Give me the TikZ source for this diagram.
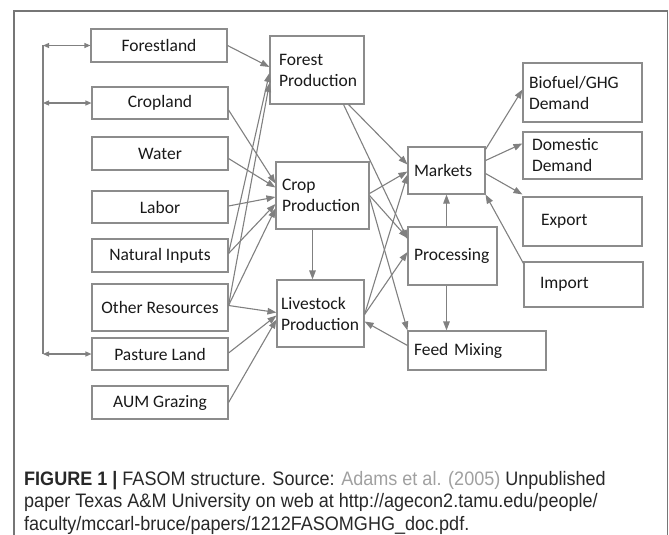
\documentclass[tikz,border=0pt]{standalone}
\usepackage{fontspec}
\setmainfont{Carlito}
\newfontfamily\capfont[FakeStretch=0.925]{Liberation Sans}
\usetikzlibrary{arrows.meta}
\definecolor{boxc}{RGB}{140,140,140}
\definecolor{arrc}{RGB}{128,128,128}
\definecolor{framec}{RGB}{118,118,118}
\definecolor{txtc}{RGB}{25,25,25}
\definecolor{capc}{RGB}{40,40,40}
\definecolor{linkc}{RGB}{160,160,160}
\tikzset{
  box/.style={draw=boxc, line width=1.1pt, text=txtc, font=\fontsize{17.5}{21}\selectfont,
    inner sep=0pt, minimum width=136pt, minimum height=#1, align=center},
  lbox/.style n args={3}{draw=boxc, line width=1.1pt, text=txtc, font=\fontsize{17.5}{21}\selectfont,
    inner ysep=0pt, inner xsep=#1, text width=#2, minimum height=#3, align=left},
  arr/.style={draw=arrc, line width=1.1pt, -{Triangle[length=9pt,width=6.5pt]}},
  darr/.style={draw=arrc, line width=1.1pt, {Triangle[length=6pt,width=5pt]}-{Triangle[length=6pt,width=5pt]}},
  vline/.style={draw=arrc, line width=1.1pt},
  frame/.style={draw=framec, line width=1.4pt},
  capline/.style={anchor=base west, inner sep=0pt, text=capc, font=\capfont\fontsize{19.5}{23}\selectfont}
}
\begin{document}
\begin{tikzpicture}[x=1pt,y=-1pt]
\useasboundingbox (0,0) rectangle (669,535);
\draw[frame] (14,540) -- (14,11) -- (667.5,11) -- (667.5,540);

% left column
\node[box=33pt] (fl) at (159,45.5) {Forestland};
\node[box=32pt] (cl) at (160,103) {Cropland};
\node[box=33pt] (wa) at (160,153.5) {Water};
\node[box=32pt] (lb) at (160,207) {Labor};
\node[box=33pt] (ni) at (160,255.5) {Natural Inputs};
\node[box=47pt] (or) at (160,307.5) {Other Resources};
\node[box=32pt] (pl) at (160,354) {Pasture Land};
\node[box=33pt] (ag) at (160,402.5) {AUM Grazing};

% production
\node[lbox={9pt}{76pt}{68pt}] (fp) at (317,70) {Forest\\Production};
\node[lbox={6pt}{81pt}{67pt}] (cp) at (322.5,195.5) {Crop\\Production};
\node[lbox={4pt}{79pt}{67pt}] (lv) at (320.5,313.5) {Livestock\\Production};

% middle
\node[lbox={6pt}{65pt}{47pt}] (mk) at (446.5,170.5) {Markets};
\node[lbox={6pt}{77pt}{58pt}] (pr) at (452.5,256) {Processing};
\node[lbox={6pt}{126pt}{39pt}] (fm) at (477,350.5) {Feed Mixing};

% right
\node[lbox={6pt}{107pt}{59pt}] (bf) at (582.5,92.5) {Biofuel/GHG\\Demand};
\node[lbox={9pt}{101pt}{47pt}] (dd) at (582.5,155.5) {Domestic\\Demand};
\node[lbox={18pt}{83pt}{49pt}] (ex) at (582.5,221.5) {Export};
\node[lbox={16pt}{87pt}{45pt}] (im) at (583.5,284.5) {Import};

% left vertical link
\coordinate (v1) at (43,45.5);
\coordinate (v2) at (43,103);
\coordinate (v3) at (43,354);
\draw[vline] (v1) -- (v3);
\draw[darr] (v1) -- (fl.west);
\draw[darr] (v2) -- (cl.west);
\draw[darr] (v3) -- (pl.west);

% inputs to production
\draw[arr] (fl.east) -- ([yshift=3pt]fp.west);
\draw[arr] ([yshift=2pt]ni.east) -- ([yshift=-3pt]fp.west);
\draw[arr] ([yshift=2pt]or.east) -- ([yshift=-13pt]fp.west);
\draw[arr] ([yshift=-7pt]cl.east) -- ([yshift=12pt]cp.west);
\draw[arr] ([yshift=-5pt]wa.east) -- ([yshift=8pt]cp.west);
\draw[arr] ([yshift=1pt]lb.east) -- ([yshift=-1.5pt]cp.west);
\draw[arr] ([yshift=2pt]ni.east) -- ([yshift=-8.5pt]cp.west);
\draw[arr] ([yshift=2pt]or.east) -- ([yshift=-13pt]cp.west);
\draw[arr] ([yshift=2pt]or.east) -- ([yshift=1pt]lv.west);
\draw[arr] ([yshift=1pt]pl.east) -- ([yshift=-2pt]lv.west);
\draw[arr] (ag.east) -- ([yshift=-6pt]lv.west);

% production to markets etc.
\draw[arr] ([xshift=-16pt]fp.south east) -- ([yshift=6pt]mk.west);
\draw[arr] ([xshift=-21pt]fp.south east) -- ([yshift=17pt]pr.west);
\draw[arr] ([yshift=2pt]cp.east) -- ([yshift=-1pt]mk.west);
\draw[arr] ([yshift=0pt]cp.east) -- ([yshift=18pt]pr.west);
\draw[arr] ([yshift=-2pt]cp.east) -- (fm.north west);
\draw[arr] ([xshift=-8pt]lv.north |- cp.south) -- ([xshift=-8pt]lv.north);
\draw[arr] ([yshift=-1pt]lv.east) -- ([yshift=-4pt]mk.west);
\draw[arr] ([yshift=-1pt]lv.east) -- ([yshift=4pt]pr.west);
\draw[arr] ([yshift=5pt]fm.west) -- ([yshift=-8pt]lv.east);
\draw[arr] (mk.south |- pr.north) -- (mk.south);
\draw[arr] (mk.south |- pr.south) -- (mk.south |- fm.north);

% markets to demand
\draw[arr] ([yshift=-3pt]mk.north east) -- ([yshift=3pt]bf.west);
\draw[arr] ([yshift=10pt]mk.east) -- ([yshift=12pt]dd.west);
\draw[arr] ([yshift=-3pt]mk.east) -- ([yshift=2pt]ex.north west);
\draw[arr] ([yshift=-2pt]im.north west) -- (mk.south east);

% caption
\node[capline] (cap1) at (24,485) {\textbf{FIGURE 1 |} FASOM structure. Source: \textcolor{linkc}{Adams et al. (2005)} Unpublished};
\node[capline] (cap2) at (24,507.5) {paper Texas A\&M University on web at http://agecon2.tamu.edu/people/};
\node[capline] (cap3) at (24,530) {faculty/mccarl-bruce/papers/1212FASOMGHG\_doc.pdf.};
\end{tikzpicture}
\end{document}
